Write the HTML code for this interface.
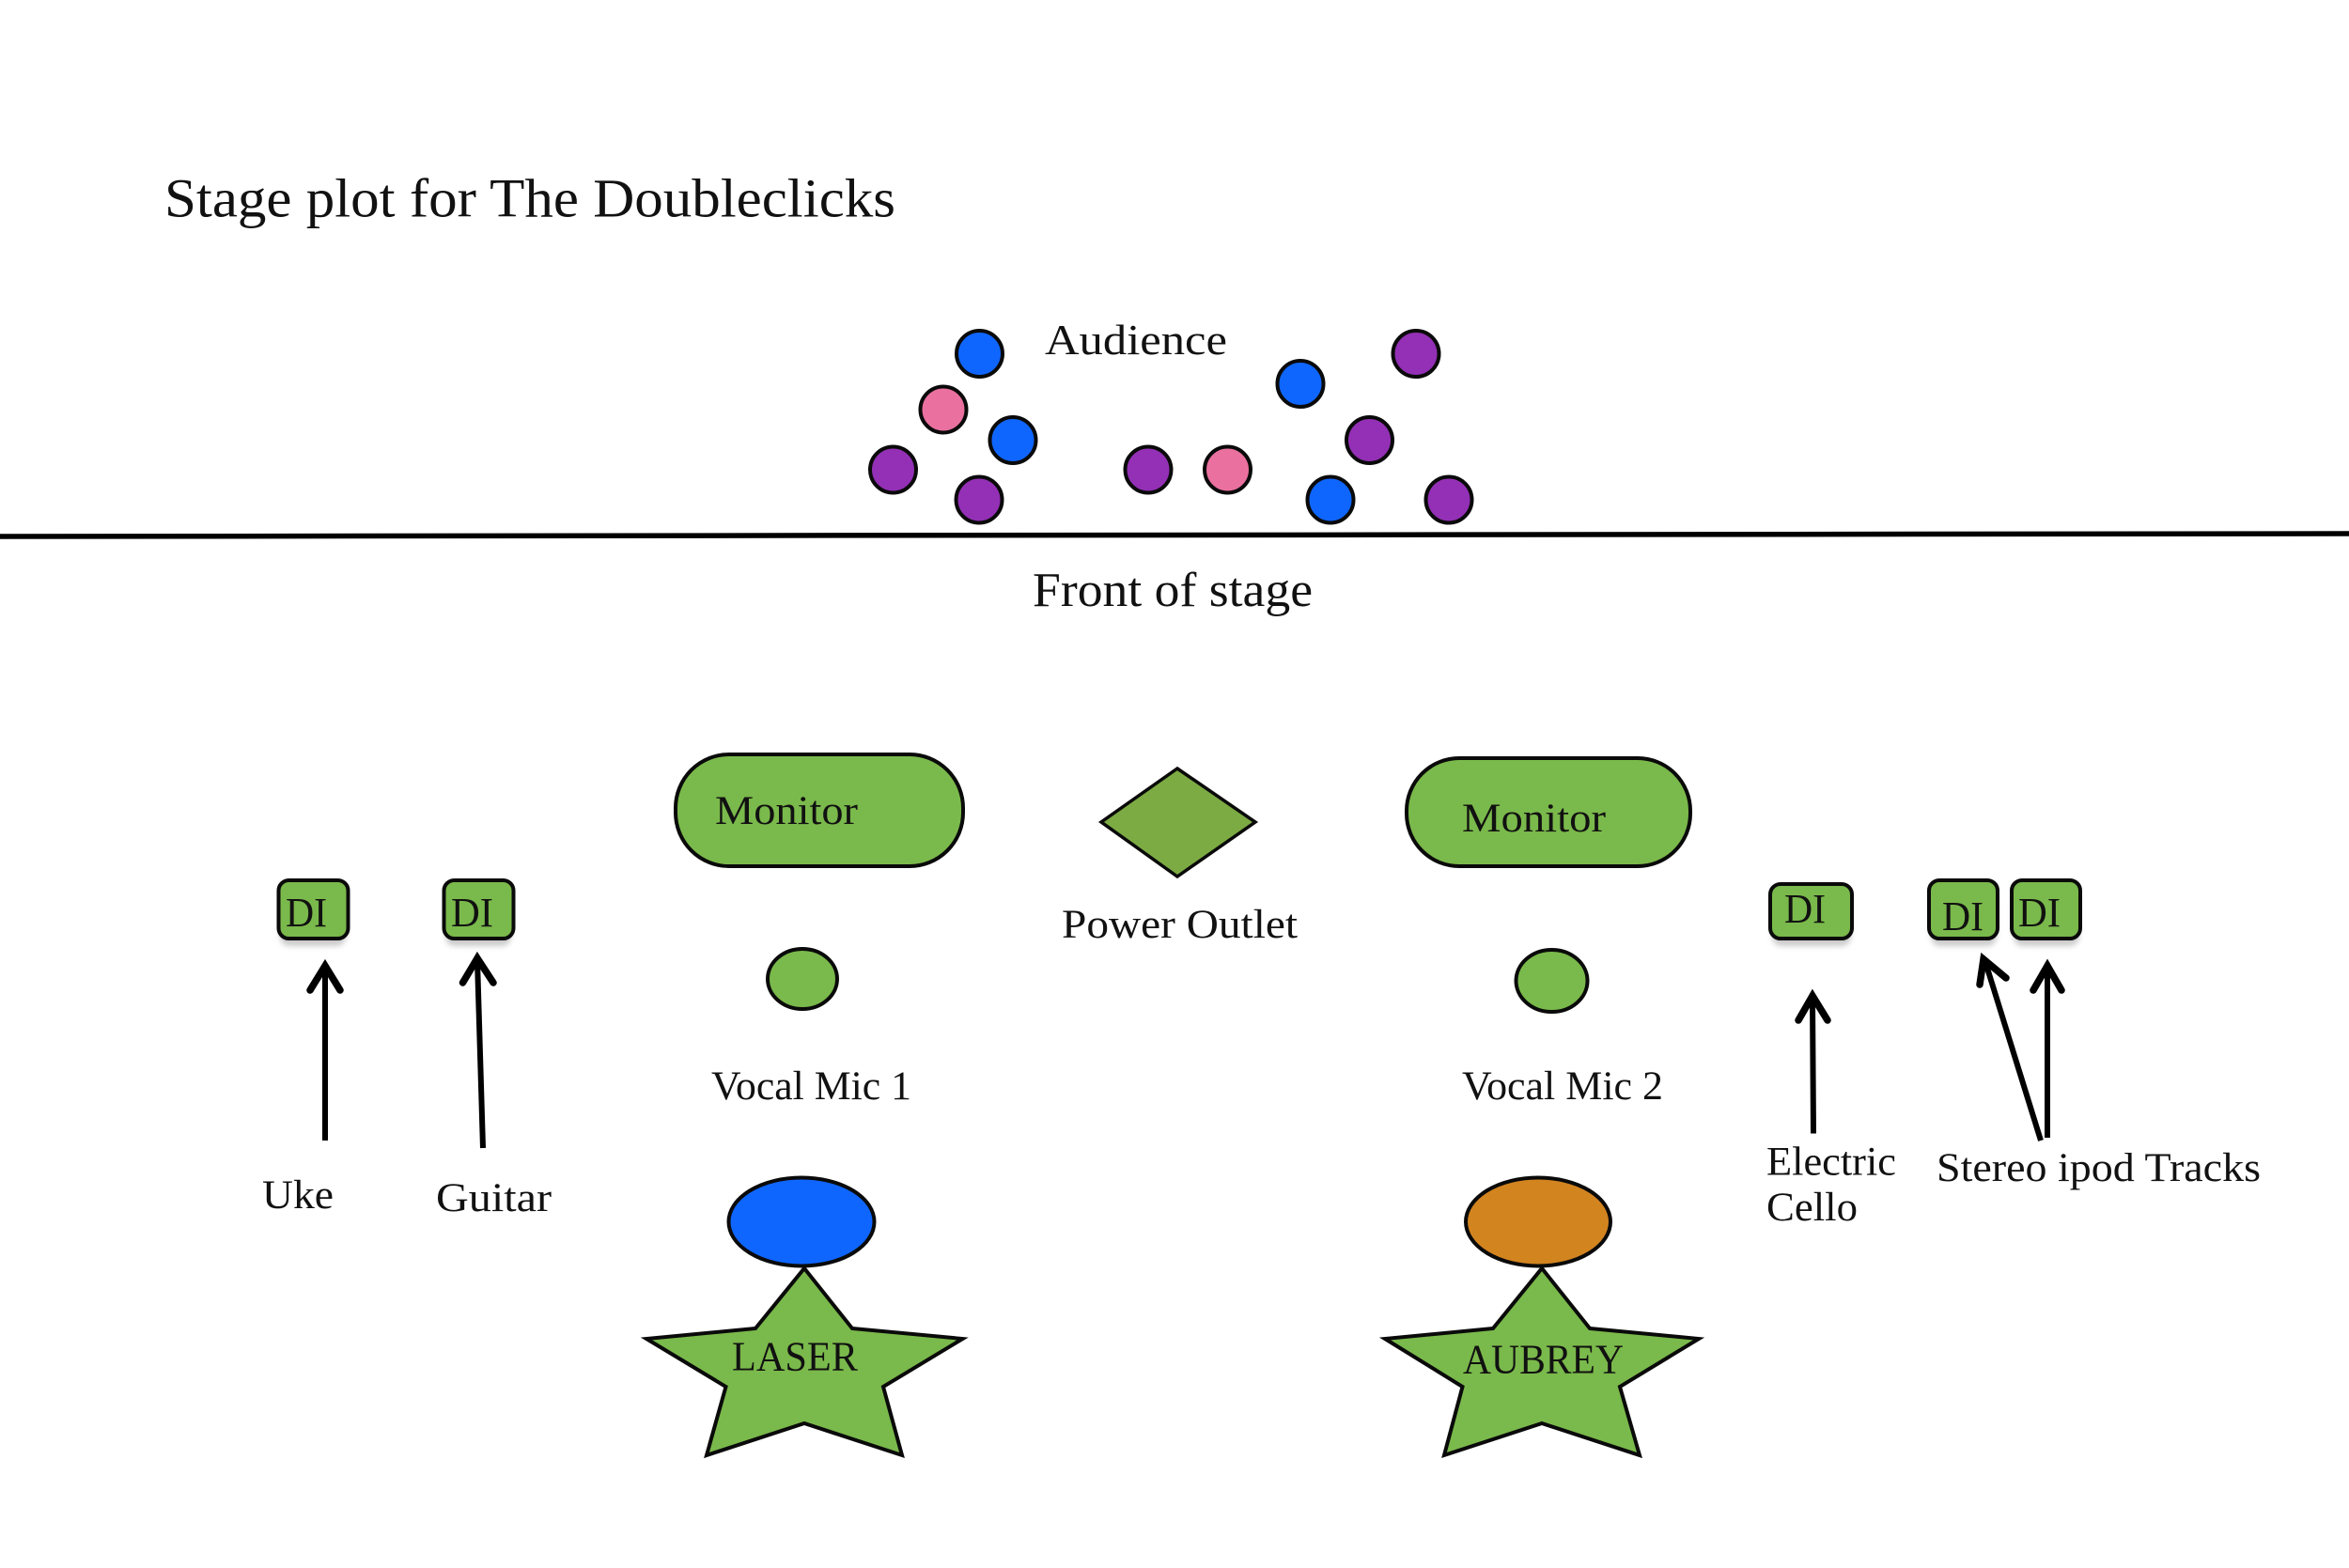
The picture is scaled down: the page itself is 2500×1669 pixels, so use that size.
<!DOCTYPE html>
<html><head><meta charset="utf-8"><style>html,body{margin:0;padding:0;background:#fff}svg{display:block}
text{font-family:"Liberation Serif",serif;fill:#111}
.s{fill:#7ab94b;stroke:#0a0a0a;stroke-width:4;stroke-linejoin:miter}
.c{stroke:#0a0a0a;stroke-width:4}
.a{fill:none;stroke:#000;stroke-width:6}
.h{fill:none;stroke:#000;stroke-width:7.5;stroke-linecap:round;stroke-linejoin:miter}
</style></head><body>
<svg width="2500" height="1669" viewBox="0 0 2500 1669" xmlns="http://www.w3.org/2000/svg">
<defs><filter id="b" x="-20%" y="-20%" width="140%" height="140%"><feGaussianBlur stdDeviation="3"/></filter></defs>
<rect width="2500" height="1669" fill="#fff"/>
<text x="175" y="230.500" font-size="58" textLength="778" lengthAdjust="spacingAndGlyphs">Stage plot for The Doubleclicks</text>
<text x="1112" y="377" font-size="46" textLength="194" lengthAdjust="spacingAndGlyphs">Audience</text>
<text x="1099" y="645" font-size="52" textLength="298" lengthAdjust="spacingAndGlyphs">Front of stage</text>
<line x1="0" y1="571" x2="2500" y2="568" stroke="#000" stroke-width="5.500"/>
<g class="c">
<circle cx="1042.5" cy="376.5" r="24.5" fill="#0f66ff"/>
<circle cx="1004" cy="436" r="24.5" fill="#ea719f"/>
<circle cx="1078" cy="468.5" r="24.5" fill="#0f66ff"/>
<circle cx="950.5" cy="500" r="24.5" fill="#9330b5"/>
<circle cx="1042" cy="532" r="24.5" fill="#9330b5"/>
<circle cx="1222" cy="500" r="24.5" fill="#9330b5"/>
<circle cx="1306.5" cy="500" r="24.5" fill="#ea719f"/>
<circle cx="1384" cy="408.5" r="24.5" fill="#0f66ff"/>
<circle cx="1507" cy="376.5" r="24.5" fill="#9330b5"/>
<circle cx="1457.5" cy="468.5" r="24.5" fill="#9330b5"/>
<circle cx="1416" cy="532" r="24.5" fill="#0f66ff"/>
<circle cx="1542" cy="532" r="24.5" fill="#9330b5"/>
</g>
<rect class="s" x="719" y="803" width="306" height="119" rx="57" ry="57"/>
<rect class="s" x="1497" y="807" width="302" height="115" rx="56" ry="56"/>
<polygon points="1253,818 1336,875 1253,933 1172,875" fill="#7cab43" stroke="#0a0a0a" stroke-width="3.500"/>
<text x="761" y="877" font-size="43" textLength="152" lengthAdjust="spacingAndGlyphs">Monitor</text>
<text x="1556" y="885" font-size="43" textLength="153" lengthAdjust="spacingAndGlyphs">Monitor</text>
<text x="1130" y="998" font-size="43" textLength="251" lengthAdjust="spacingAndGlyphs">Power Outlet</text>
<g fill="#999" filter="url(#b)" opacity=".5">
<rect x="298" y="950" width="70" height="57" rx="10"/>
<rect x="474" y="950" width="70" height="57" rx="10"/>
<rect x="1886" y="950" width="84" height="57" rx="10"/>
<rect x="2055" y="950" width="70" height="57" rx="10"/>
<rect x="2143" y="950" width="70" height="57" rx="10"/>
</g>
<rect class="s" x="296.500" y="937" width="74" height="62" rx="11"/>
<rect class="s" x="472.500" y="937" width="74" height="62" rx="11"/>
<rect class="s" x="1884" y="941" width="87" height="58" rx="11"/>
<rect class="s" x="2053" y="937" width="73" height="62" rx="11"/>
<rect class="s" x="2141" y="937" width="73" height="62" rx="11"/>
<text x="304" y="986" font-size="44" textLength="44" lengthAdjust="spacingAndGlyphs">DI</text>
<text x="480" y="986" font-size="44" textLength="45" lengthAdjust="spacingAndGlyphs">DI</text>
<text x="1899" y="982" font-size="44" textLength="44" lengthAdjust="spacingAndGlyphs">DI</text>
<text x="2067" y="990" font-size="44" textLength="44" lengthAdjust="spacingAndGlyphs">DI</text>
<text x="2148" y="986" font-size="44" textLength="45" lengthAdjust="spacingAndGlyphs">DI</text>
<ellipse class="s" cx="854" cy="1042" rx="37" ry="32"/>
<ellipse class="s" cx="1651.500" cy="1044" rx="38" ry="33"/>
<text x="757" y="1170" font-size="43" textLength="213" lengthAdjust="spacingAndGlyphs">Vocal Mic 1</text>
<text x="1556" y="1170" font-size="43" textLength="214" lengthAdjust="spacingAndGlyphs">Vocal Mic 2</text>
<line class="a" x1="346" y1="1214" x2="346" y2="1030"/>
<polyline class="h" points="330,1054 346,1028 362,1054"/>
<line class="a" x1="514" y1="1222" x2="508" y2="1022"/>
<polyline class="h" points="492.500,1046 508,1020 525,1046"/>
<line class="a" x1="1930" y1="1206.500" x2="1929" y2="1062"/>
<polyline class="h" points="1914,1086 1929,1060 1945,1086"/>
<line class="a" x1="2172" y1="1214" x2="2113" y2="1024"/>
<polyline class="h" points="2107,1048 2111,1021 2135,1041"/>
<line class="a" x1="2179" y1="1211" x2="2179" y2="1030"/>
<polyline class="h" points="2164,1054 2179,1028 2194,1054"/>
<text x="279" y="1286" font-size="43" textLength="76" lengthAdjust="spacingAndGlyphs">Uke</text>
<text x="464" y="1289" font-size="43" textLength="123" lengthAdjust="spacingAndGlyphs">Guitar</text>
<text x="1880" y="1250.500" font-size="43" textLength="138" lengthAdjust="spacingAndGlyphs">Electric</text>
<text x="1880" y="1299" font-size="43" textLength="97" lengthAdjust="spacingAndGlyphs">Cello</text>
<text x="2061" y="1257" font-size="43" textLength="345" lengthAdjust="spacingAndGlyphs">Stereo ipod Tracks</text>
<ellipse cx="853" cy="1300.500" rx="77.500" ry="47" fill="#0f66ff" stroke="#0a0a0a" stroke-width="4"/>
<ellipse cx="1637" cy="1300.500" rx="77" ry="47" fill="#d2841f" stroke="#0a0a0a" stroke-width="4"/>
<polygon class="s" points="856,1350 907,1414 1024.500,1425 940,1476 960,1549 856,1515 752,1549 772.500,1476 688,1425 804,1414"/>
<polygon class="s" points="1641,1350 1692,1414 1808,1425 1724,1476 1745,1549 1641,1515 1537,1549 1556.500,1476 1474,1425 1589,1414"/>
<text x="779" y="1458.500" font-size="44" textLength="134" lengthAdjust="spacingAndGlyphs">LASER</text>
<text x="1557" y="1461.500" font-size="44" textLength="171" lengthAdjust="spacingAndGlyphs">AUBREY</text>
</svg>
</body></html>
